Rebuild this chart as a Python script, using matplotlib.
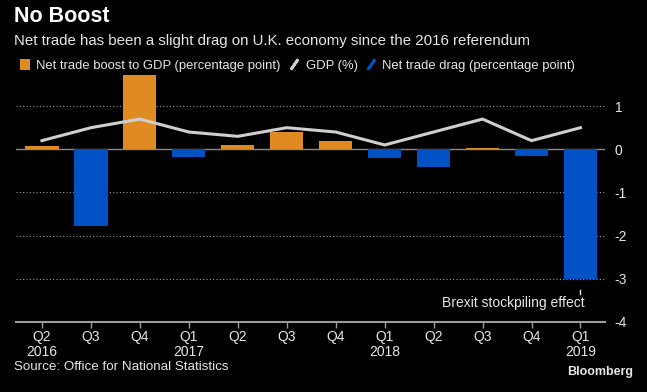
import numpy as np
import matplotlib.pyplot as plt
from matplotlib.patches import Patch
from matplotlib.lines import Line2D

plt.rcParams['font.family'] = ['Liberation Sans', 'DejaVu Sans']

quarters = ["Q2", "Q3", "Q4", "Q1", "Q2", "Q3", "Q4", "Q1", "Q2", "Q3", "Q4", "Q1"]
years = ["2016", "", "", "2017", "", "", "", "2018", "", "", "", "2019"]
net_trade = [0.08, -1.77, 1.72, -0.18, 0.1, 0.4, 0.2, -0.2, -0.4, 0.03, -0.15, -3.0]
gdp = [0.2, 0.5, 0.7, 0.4, 0.3, 0.5, 0.4, 0.1, 0.4, 0.7, 0.2, 0.5]

orange = "#E08A22"
blue = "#0052C4"
line_gray = "#CFCFCF"
txt = "#E6E6E6"

fig = plt.figure(figsize=(6.47, 3.92), dpi=100, facecolor="black")
ax = fig.add_axes([0.0247, 0.1786, 0.9103, 0.630])
ax.set_facecolor("black")

x = np.arange(len(quarters))
colors = [orange if v >= 0 else blue for v in net_trade]
ax.bar(x, net_trade, width=0.68, color=colors, zorder=2)
ax.plot(x, gdp, color=line_gray, lw=2.2, zorder=3)

ax.set_xlim(-0.53, 11.5)
ax.set_ylim(-4, 1.72)
for v in [1, -1, -2, -3]:
    ax.axhline(v, color="#9A9A9A", lw=0.8, ls=(0, (1, 2)), zorder=1)
ax.axhline(0, color="#8A8A8A", lw=1.0, zorder=1)

ax.yaxis.tick_right()
ax.set_yticks([1, 0, -1, -2, -3, -4])
ax.set_yticklabels(["1", "0", "-1", "-2", "-3", "-4"])
ax.tick_params(axis="y", length=0, pad=7, labelsize=10, colors=txt)

ax.set_xticks(x)
ax.set_xticklabels([q + "\n" + y for q, y in zip(quarters, years)], linespacing=1.1)
ax.tick_params(axis="x", length=4, width=1, color="#9A9A9A", labelsize=10,
               colors=txt, pad=1.5)
for s in ["top", "right", "left"]:
    ax.spines[s].set_visible(False)
ax.spines["bottom"].set_color("#9A9A9A")
ax.spines["bottom"].set_linewidth(1.5)

# annotation
ax.plot([11, 11], [-3.25, -3.35], color=txt, lw=1)
ax.text(11.08, -3.55, "Brexit stockpiling effect", ha="right", va="center",
        color=txt, fontsize=10)

fig.text(0.021, 0.957, "No Boost", color="white", fontsize=15.5, fontweight="bold",
         va="center")
fig.text(0.021, 0.895, "Net trade has been a slight drag on U.K. economy since the 2016 referendum",
         color=txt, fontsize=10.8, va="center")

handles = [
    Patch(facecolor=orange, edgecolor="none"),
    Line2D([], [], ls="none", marker=(2, 2, -35), markersize=9, mec=line_gray, mew=2),
    Line2D([], [], ls="none", marker=(2, 2, -35), markersize=9, mec=blue, mew=2),
]
labels = ["Net trade boost to GDP (percentage point)", "GDP (%)",
          "Net trade drag (percentage point)"]
leg = fig.legend(handles, labels, loc="center left", bbox_to_anchor=(0.012, 0.832),
                 ncol=3, frameon=False, fontsize=9.4, handlelength=0.8,
                 handleheight=0.9, handletextpad=0.5, columnspacing=0.6)
for t in leg.get_texts():
    t.set_color(txt)

fig.text(0.021, 0.063, "Source: Office for National Statistics", color=txt,
         fontsize=9.6, va="center")
fig.text(0.978, 0.05, "Bloomberg", color=txt, fontsize=9, fontweight="bold",
         ha="right", va="center")

fig.savefig("out.png", dpi=100, facecolor="black")
